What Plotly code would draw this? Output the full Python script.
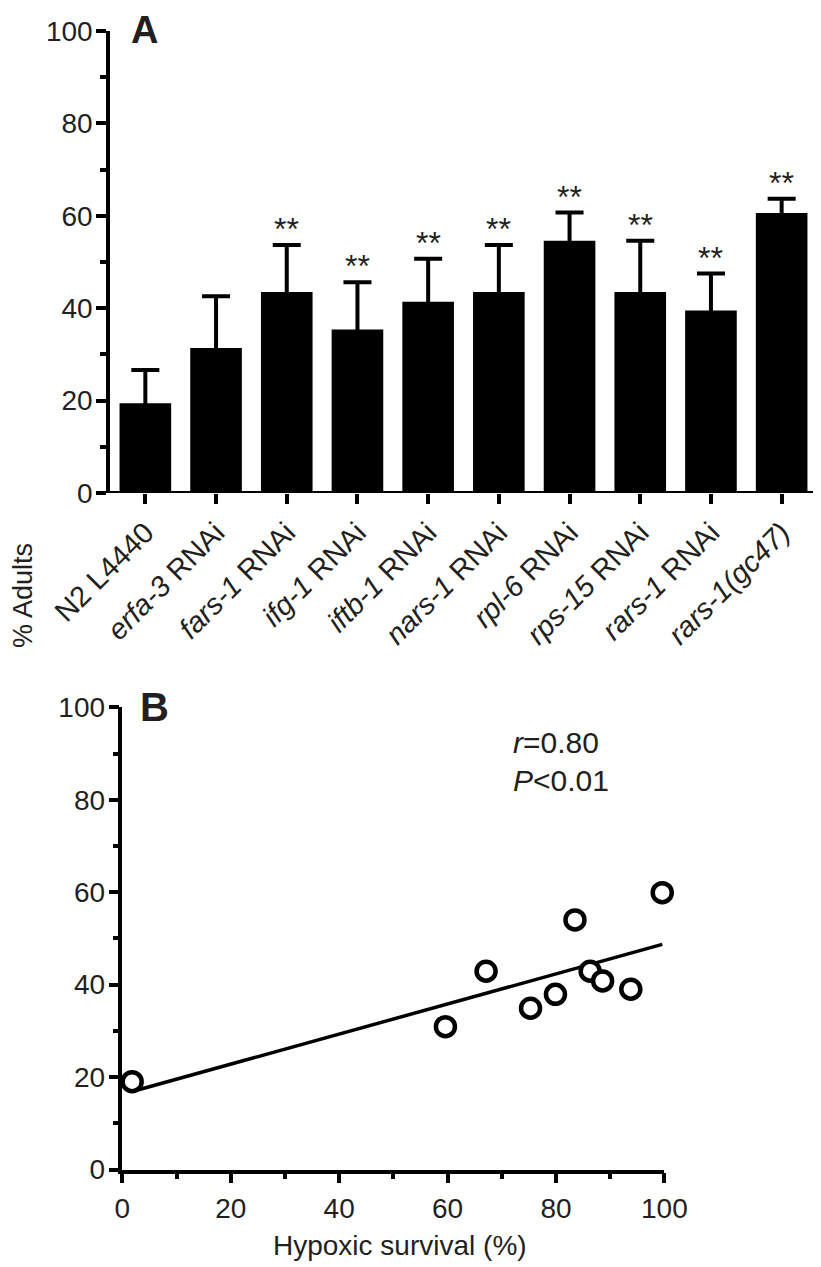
import numpy as np
import plotly.graph_objects as go

# ---------------- data ----------------
categories = ["N2 L4440", "<i>erfa-3</i> RNAi", "<i>fars-1</i> RNAi", "<i>ifg-1</i> RNAi",
              "<i>iftb-1</i> RNAi", "<i>nars-1</i> RNAi", "<i>rpl-6</i> RNAi",
              "<i>rps-15</i> RNAi", "<i>rars-1</i> RNAi", "<i>rars-1(gc47)</i>"]
adult_pct = [19.4, 31.4, 43.5, 35.4, 41.4, 43.5, 54.6, 43.5, 39.5, 60.6]
adult_err = [7.2, 11.2, 10.2, 10.2, 9.3, 10.2, 6.1, 11.1, 8.0, 3.1]
sig_marks = ["", "", "**", "**", "**", "**", "**", "**", "**", "**"]

hypoxic_survival = [1.8, 59.6, 67.1, 75.3, 79.9, 83.5, 86.3, 88.6, 93.8, 99.6]
adults_b = [19.0, 30.9, 42.9, 34.9, 37.9, 54.0, 42.9, 40.8, 39.0, 59.9]
r_text = "<i>r</i>=0.80"
p_text = "<i>P</i><0.01"

W, H = 821, 1267
OFF = 8  # page body margin offset in the screenshot
FONT = "Liberation Sans, Arial, Helvetica, sans-serif"
TXT = "#231f20"

def px_x(p):
    return (p - OFF) / W

def px_y(p):
    return (H - (p - OFF)) / H

idx = list(range(len(categories)))

fig = go.Figure()

# Panel A bars
fig.add_trace(go.Bar(
    x=idx, y=adult_pct, width=0.73,
    marker=dict(color="black", line=dict(width=0)),
    error_y=dict(type="data", array=adult_err, symmetric=True,
                 thickness=4, width=14, color="black"),
    xaxis="x", yaxis="y", showlegend=False,
))

# Panel B regression line
coef = np.polyfit(hypoxic_survival, adults_b, 1)
xl = np.array([min(hypoxic_survival), max(hypoxic_survival)])
fig.add_trace(go.Scatter(
    x=xl, y=np.polyval(coef, xl), mode="lines",
    line=dict(color="black", width=3.5),
    xaxis="x2", yaxis="y2", showlegend=False,
))
fig.add_trace(go.Scatter(
    x=hypoxic_survival, y=adults_b, mode="markers",
    marker=dict(symbol="circle", size=19, color="white",
                line=dict(color="black", width=4.5)),
    xaxis="x2", yaxis="y2", showlegend=False, cliponaxis=False,
))

axis_common = dict(showgrid=False, zeroline=False, linecolor="black", linewidth=3.5,
                   ticks="outside", tickcolor="black", tickwidth=3.5, ticklen=10,
                   automargin=False,
                   tickfont=dict(family=FONT, size=28, color=TXT))

minor_common = dict(dtick=10, tick0=0, ticks="outside", ticklen=6, tickwidth=3.5, tickcolor="black")

fig.update_layout(
    width=W, height=H,
    margin=dict(l=0, r=0, t=0, b=0, autoexpand=False),
    plot_bgcolor="white", paper_bgcolor="white",
    xaxis=dict(domain=[px_x(110), px_x(817)], range=[-0.5, 9.5],
               tickmode="array", tickvals=idx, ticktext=categories, tickangle=-45,
               showgrid=False, zeroline=False, showline=False, automargin=False,
               ticks="outside", tickcolor="black", tickwidth=3.5, ticklen=10,
               ticklabelstandoff=0,
               tickfont=dict(family=FONT, size=29, color=TXT), anchor="y"),
    yaxis=dict(domain=[px_y(493), px_y(31)], range=[0, 100], tickvals=[0, 20, 40, 60, 80, 100],
               showline=True, anchor="x", minor=minor_common,
               ticklabelstandoff=-2, **axis_common),
    xaxis2=dict(domain=[px_x(122.4), px_x(664.4)], range=[0, 100], tickvals=[0, 20, 40, 60, 80, 100],
                showline=True, anchor="y2", minor=minor_common,
                ticklabelstandoff=1, **axis_common),
    yaxis2=dict(domain=[px_y(1169.5), px_y(707.3)], range=[0, 100], tickvals=[0, 20, 40, 60, 80, 100],
                showline=True, anchor="x2", minor=minor_common,
                ticklabelstandoff=-2, **axis_common),
)

# x-axis baseline of panel A (extends slightly left of the y axis)
fig.add_shape(type="line", xref="paper", yref="y", x0=px_x(100), x1=px_x(817), y0=0, y1=0,
              line=dict(color="black", width=4))

annotations = []
for i, (v, e, s) in enumerate(zip(adult_pct, adult_err, sig_marks)):
    if s:
        annotations.append(dict(x=i, y=v + e, xref="x", yref="y", text=s, showarrow=False,
                                yanchor="middle", yshift=16,
                                font=dict(family=FONT, size=32, color=TXT)))

annotations += [
    dict(x=px_x(129), y=px_y(53), xref="paper", yref="paper", text="<b>A</b>", showarrow=False,
         xanchor="left", yanchor="bottom", font=dict(family=FONT, size=38, color=TXT)),
    dict(x=px_x(138), y=px_y(731), xref="paper", yref="paper", text="<b>B</b>", showarrow=False,
         xanchor="left", yanchor="bottom", font=dict(family=FONT, size=40, color=TXT)),
    dict(x=px_x(23), y=px_y(596), xref="paper", yref="paper", text="% Adults", showarrow=False,
         textangle=-90, xanchor="center", yanchor="middle",
         font=dict(family=FONT, size=27, color=TXT)),
    dict(x=px_x(400), y=px_y(1245), xref="paper", yref="paper", text="Hypoxic survival (%)",
         showarrow=False, xanchor="center", yanchor="middle",
         font=dict(family=FONT, size=28, color=TXT)),
    dict(x=px_x(511), y=px_y(742), xref="paper", yref="paper", text=r_text, showarrow=False,
         xanchor="left", yanchor="middle", font=dict(family=FONT, size=30, color=TXT)),
    dict(x=px_x(511), y=px_y(780), xref="paper", yref="paper", text=p_text, showarrow=False,
         xanchor="left", yanchor="middle", font=dict(family=FONT, size=30, color=TXT)),
]
fig.update_layout(annotations=annotations)

fig.write_html("out.html")
